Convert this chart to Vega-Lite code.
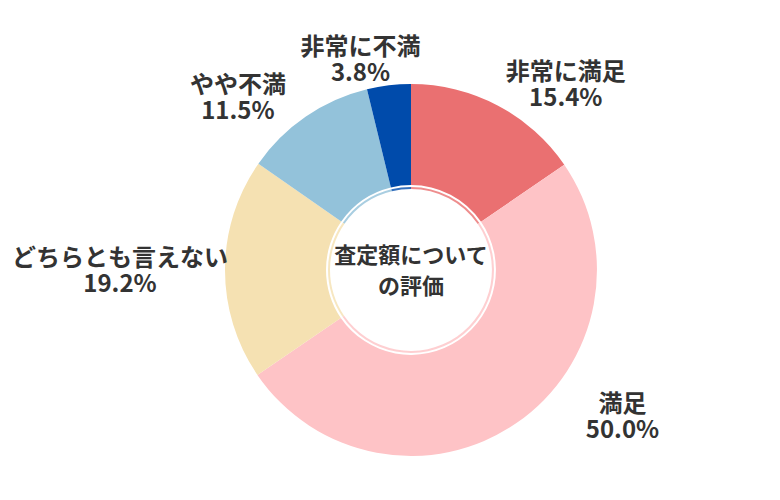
{
  "$schema": "https://vega.github.io/schema/vega-lite/v6.json",
  "width": 822,
  "height": 540,
  "autosize": {"type": "none"},
  "padding": 0,
  "background": "white",
  "view": {"stroke": null},
  "layer": [
    {
      "data": {
        "values": [
          {"category": "非常に満足", "value": 15.4, "order": 1},
          {"category": "満足", "value": 50.0, "order": 2},
          {"category": "どちらとも言えない", "value": 19.2, "order": 3},
          {"category": "やや不満", "value": 11.5, "order": 4},
          {"category": "非常に不満", "value": 3.8, "order": 5}
        ]
      },
      "transform": [
        {"stack": "value", "groupby": [], "sort": [{"field": "order"}], "as": ["v0", "v1"]},
        {"calculate": "(datum.v0 + datum.v1) / 2", "as": "mid"},
        {"calculate": "[datum.category, format(datum.value, '.1f') + '%']", "as": "label"}
      ],
      "layer": [
        {
          "mark": {"type": "arc", "outerRadius": 186, "innerRadius": 85},
          "encoding": {
            "theta": {"field": "v0", "type": "quantitative", "scale": {"domain": [0, 99.9], "nice": false, "zero": true}},
            "theta2": {"field": "v1"},
            "color": {
              "field": "category",
              "type": "nominal",
              "legend": null,
              "scale": {
                "domain": ["非常に満足", "満足", "どちらとも言えない", "やや不満", "非常に不満"],
                "range": ["#EA7071", "#FEC3C6", "#F5E1B2", "#93C2DA", "#004BAB"]
              }
            }
          }
        },
        {
          "mark": {"type": "arc", "outerRadius": 83, "innerRadius": 81, "opacity": 0.8},
          "encoding": {
            "theta": {"field": "v0", "type": "quantitative"},
            "theta2": {"field": "v1"},
            "color": {"field": "category", "type": "nominal", "legend": null}
          }
        },
        {
          "transform": [{"filter": "datum.category == '非常に満足'"}],
          "mark": {"type": "text", "radius": 210, "dx": 57, "dy": -11, "fontSize": 24, "fontWeight": "bold", "font": "Noto Sans CJK JP", "color": "#333333", "lineHeight": 26, "align": "center", "baseline": "middle"},
          "encoding": {"theta": {"field": "mid", "type": "quantitative"}, "text": {"field": "label"}}
        },
        {
          "transform": [{"filter": "datum.category == '満足'"}],
          "mark": {"type": "text", "radius": 176, "dx": 112, "dy": -10, "fontSize": 24, "fontWeight": "bold", "font": "Noto Sans CJK JP", "color": "#333333", "lineHeight": 26, "align": "center", "baseline": "middle"},
          "encoding": {"theta": {"field": "mid", "type": "quantitative"}, "text": {"field": "label"}}
        },
        {
          "transform": [{"filter": "datum.category == 'どちらとも言えない'"}],
          "mark": {"type": "text", "radius": 291, "dy": -10, "fontSize": 24, "fontWeight": "bold", "font": "Noto Sans CJK JP", "color": "#333333", "lineHeight": 26, "align": "center", "baseline": "middle"},
          "encoding": {"theta": {"field": "mid", "type": "quantitative"}, "text": {"field": "label"}}
        },
        {
          "transform": [{"filter": "datum.category == 'やや不満'"}],
          "mark": {"type": "text", "radius": 209, "dx": -55, "dy": -12, "fontSize": 24, "fontWeight": "bold", "font": "Noto Sans CJK JP", "color": "#333333", "lineHeight": 26, "align": "center", "baseline": "middle"},
          "encoding": {"theta": {"field": "mid", "type": "quantitative"}, "text": {"field": "label"}}
        },
        {
          "transform": [{"filter": "datum.category == '非常に不満'"}],
          "mark": {"type": "text", "radius": 214, "dx": -25, "dy": -10, "fontSize": 24, "fontWeight": "bold", "font": "Noto Sans CJK JP", "color": "#333333", "lineHeight": 26, "align": "center", "baseline": "middle"},
          "encoding": {"theta": {"field": "mid", "type": "quantitative"}, "text": {"field": "label"}}
        }
      ]
    },
    {
      "data": {"values": [{"title": "査定額について\nの評価"}]},
      "mark": {"type": "text", "dy": -14, "fontSize": 22, "fontWeight": "bold", "font": "Noto Sans CJK JP", "color": "#333333", "lineHeight": 31, "lineBreak": "\n", "align": "center", "baseline": "middle"},
      "encoding": {"text": {"field": "title"}}
    }
  ]
}
